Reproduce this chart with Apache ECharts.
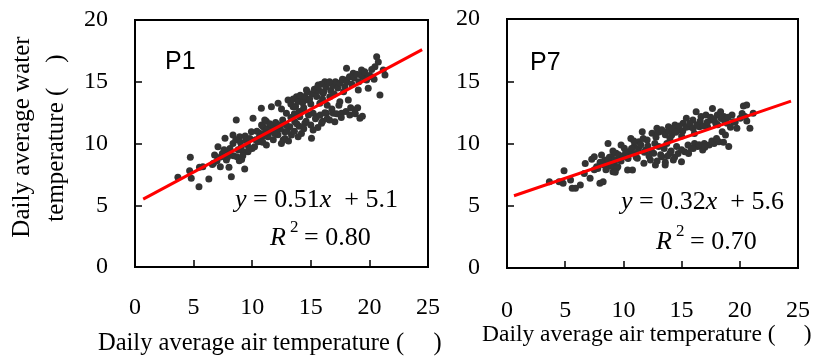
<!DOCTYPE html>
<html>
<head>
<meta charset="utf-8">
<script src="https://cdn.jsdelivr.net/npm/echarts@6/dist/echarts.min.js"></script>
<style>
  html, body { margin: 0; padding: 0; background: #fff; }
  #chart { width: 813px; height: 358px; }
</style>
</head>
<body>
<div id="chart"></div>
<script>
// air temperature vs water temperature
const xTicks = [0, 5, 10, 15, 20, 25]
const yTicks = [0, 5, 10, 15, 20]

const p1Points = [
  [3.66, 7.26], [4.72, 8.88], [4.66, 7.8], [4.8, 7.18], [5.46, 6.5], [5.5, 8.07], [5.79, 8.12], [6.3, 7.13],
  [6.7, 8.4], [6.79, 9.07], [7.08, 9.74], [7.28, 8.12], [7.45, 9.2], [7.68, 10.42], [7.8, 8.66], [8.02, 8.07],
  [8.22, 7.31], [8.36, 10.0], [8.36, 10.69], [8.64, 11.9], [8.7, 8.93], [8.93, 10.55], [9.07, 9.74], [9.36, 7.94],
  [9.2, 9.34], [9.5, 10.28], [9.64, 9.34], [9.93, 10.96], [10.07, 12.04], [10.2, 9.74], [10.5, 10.15], [10.64, 10.82],
  [10.78, 12.85], [10.93, 11.36], [11.07, 11.9], [11.21, 9.88], [11.35, 10.55], [11.49, 11.09], [11.64, 12.98], [11.92, 11.36],
  [12.07, 10.82], [12.21, 13.25], [12.49, 10.01], [12.64, 10.28], [12.78, 10.96], [12.92, 12.44], [13.06, 13.52], [13.21, 11.36],
  [13.35, 10.69], [13.49, 12.98], [13.63, 11.77], [13.78, 13.79], [13.92, 10.55], [14.06, 12.17], [14.2, 13.52], [14.35, 12.71],
  [14.49, 11.63], [14.63, 14.33], [14.77, 13.52], [15.06, 10.42], [15.2, 12.44], [15.35, 14.06], [15.49, 12.17], [15.63, 14.74],
  [15.77, 13.25], [15.92, 11.63], [16.05, 14.06], [16.2, 15.01], [16.34, 12.44], [16.62, 13.79], [16.91, 12.44], [17.05, 11.77],
  [17.19, 14.74], [17.48, 13.39], [17.62, 12.44], [17.91, 15.14], [18.05, 16.09], [18.2, 13.52], [18.33, 12.31], [18.62, 15.68],
  [18.76, 12.71], [19.05, 14.33], [19.19, 12.04], [19.33, 15.95], [19.48, 15.41], [19.76, 15.14], [19.9, 14.47], [20.19, 15.41],
  [20.47, 16.22], [20.62, 17.03], [20.76, 16.6], [20.9, 13.93], [21.18, 15.95], [21.33, 15.55],
  [8.1, 9.6], [8.4, 9.0], [8.6, 10.3], [8.8, 9.5], [9.0, 10.1], [9.2, 9.0], [9.4, 10.6], [9.6, 9.9], [9.8, 10.4], [10.0, 9.6],
  [8.0, 9.3], [7.6, 9.5], [7.3, 8.9], [7.0, 8.6], [6.6, 8.3], [7.9, 8.9], [8.9, 8.6], [9.1, 8.7], [9.7, 9.5], [10.3, 10.3],
  [10.4, 11.0], [10.6, 10.5], [10.8, 11.5], [11.0, 10.6], [11.2, 11.8], [11.4, 10.9], [11.6, 11.4], [11.8, 10.3], [12.0, 11.7],
  [12.2, 10.7], [12.4, 11.2], [12.6, 11.9], [12.8, 10.4], [13.0, 11.0], [11.3, 11.2], [11.5, 11.6], [11.1, 10.9], [12.1, 11.1],
  [12.3, 11.5], [10.9, 10.1], [11.9, 10.8], [12.9, 11.5], [13.1, 10.2], [13.3, 12.1], [12.5, 12.8],
  [13.3, 13.2], [13.5, 13.6], [13.7, 13.0], [13.9, 13.4], [14.1, 13.9], [14.3, 13.3], [14.5, 13.8], [14.7, 14.2], [14.9, 13.6],
  [15.1, 14.0], [15.3, 14.4], [15.5, 13.8], [15.7, 14.3], [15.9, 14.8], [16.1, 14.2], [16.3, 14.6], [16.5, 14.9], [16.7, 14.3],
  [16.9, 14.7], [17.1, 15.0], [17.3, 14.5], [17.5, 14.9], [17.7, 15.2], [17.9, 14.6], [18.1, 15.0], [18.3, 15.4], [18.5, 14.8],
  [18.7, 15.3], [18.9, 15.6], [19.1, 15.0], [19.3, 15.5], [19.6, 15.8], [20.0, 15.5], [20.2, 16.0], [20.4, 15.2], [15.0, 13.2],
  [14.0, 12.6], [16.0, 13.6], [17.0, 14.0], [16.6, 15.0], [15.6, 14.6], [14.4, 12.9], [13.6, 12.4], [16.4, 13.1], [17.8, 14.2],
  [13.6, 11.0], [14.0, 11.4], [14.2, 10.8], [14.6, 11.8], [15.0, 11.5], [15.4, 12.0], [15.6, 11.3], [15.8, 12.3], [16.0, 11.8],
  [16.2, 12.5], [16.4, 12.0], [16.8, 12.8], [17.2, 12.4], [17.4, 13.1], [17.6, 12.1], [18.0, 12.6], [18.4, 12.9], [18.8, 12.4],
  [19.0, 12.9], [19.4, 12.2], [16.6, 11.9], [15.2, 11.1], [14.8, 12.3], [13.8, 11.6], [14.4, 11.2]
]

const p7Points = [
  [3.64, 6.93], [4.48, 6.93], [4.9, 7.82], [4.82, 6.8], [5.46, 7.07], [5.6, 6.4], [5.88, 6.4], [6.3, 6.67],
  [6.64, 7.6], [6.72, 8.4], [7.14, 7.2], [7.28, 8.73], [7.5, 8.94], [7.7, 8.14], [7.98, 6.8], [8.26, 6.93],
  [8.12, 9.08], [8.4, 8.67], [8.54, 8.0], [8.68, 10.01], [8.82, 8.27], [8.96, 8.94], [9.1, 7.74], [9.24, 8.54],
  [9.38, 9.21], [9.52, 8.14], [9.66, 8.81], [9.8, 9.88], [9.94, 8.94], [10.08, 9.61], [10.36, 7.87], [10.5, 9.34],
  [10.64, 10.41], [10.78, 7.87], [10.92, 9.75], [11.2, 8.81], [11.34, 10.15], [11.62, 10.95], [11.76, 8.41], [11.9, 9.48],
  [12.04, 10.28], [12.32, 8.67], [12.46, 10.82], [12.6, 9.21], [12.75, 8.27], [12.88, 11.22], [13.03, 9.75], [13.3, 8.94],
  [13.45, 10.95], [13.59, 8.27], [13.73, 10.01], [13.87, 11.35], [14.0, 9.21], [14.15, 10.68], [14.29, 8.67], [14.43, 11.49],
  [14.57, 9.75], [14.71, 11.09], [14.99, 8.54], [15.13, 11.62], [15.27, 9.34], [15.41, 12.02], [15.55, 9.88], [15.69, 11.35],
  [15.83, 9.61], [15.97, 11.89], [16.11, 10.01], [16.25, 12.56], [16.39, 9.75], [16.53, 11.35], [16.67, 12.16], [16.81, 9.48],
  [16.95, 10.01], [17.09, 12.29], [17.23, 11.35], [17.37, 9.88], [17.51, 11.89], [17.65, 12.82], [17.79, 10.01], [17.93, 11.62],
  [18.07, 12.29], [18.21, 10.15], [18.35, 12.56], [18.49, 10.95], [18.63, 12.16], [18.77, 10.68], [18.91, 11.62], [19.05, 9.75],
  [19.33, 12.29], [19.47, 11.75], [19.75, 11.22], [20.03, 12.02], [20.31, 13.01], [20.45, 12.16], [20.59, 13.09], [20.87, 11.22],
  [21.15, 12.42],
  [8.6, 8.5], [8.8, 8.9], [9.0, 8.2], [9.2, 8.7], [9.4, 8.0], [8.3, 8.3], [8.5, 7.9], [9.6, 9.1], [9.8, 8.6], [10.0, 9.0],
  [8.0, 8.5], [7.8, 8.0], [7.5, 7.9], [9.1, 9.4], [8.7, 8.7], [9.3, 7.7], [10.2, 9.3], [10.4, 8.8], [10.7, 9.6], [11.0, 9.2],
  [11.3, 9.6], [11.5, 9.9], [11.8, 9.3], [12.1, 9.8], [12.4, 9.4], [12.7, 10.0], [12.2, 9.0], [11.1, 8.9], [10.9, 10.2], [11.7, 10.4],
  [13.0, 10.9], [13.3, 11.1], [13.6, 10.7], [13.9, 11.0], [14.2, 11.2], [14.5, 10.9], [14.8, 11.4], [15.1, 11.0], [15.4, 11.3],
  [15.7, 11.6], [16.0, 11.2], [16.3, 11.5], [16.6, 11.8], [16.9, 11.4], [17.2, 11.7], [17.5, 12.1], [17.8, 11.9], [18.1, 11.5],
  [18.4, 12.0], [18.7, 11.8], [19.0, 12.1], [19.2, 11.3], [19.6, 11.7], [20.2, 12.4], [20.6, 11.8], [14.0, 10.4], [15.0, 10.6],
  [16.1, 10.8], [12.8, 10.5], [13.5, 9.6],
  [13.8, 9.0], [14.1, 9.4], [14.4, 8.9], [14.7, 9.2], [15.0, 9.5], [15.6, 9.2], [16.0, 9.6], [16.5, 9.9], [17.0, 9.7],
  [17.6, 10.2], [18.0, 10.4], [18.6, 10.1], [13.2, 9.1], [12.9, 8.6], [13.6, 8.5]
]

// fitted lines, end points as drawn
const p1Fit = [[0.7, 5.5], [24.5, 17.6]]
const p7Fit = [[0.6, 5.8], [24.4, 13.4]]

const panelLabels = ["P1", "P7"]
const eqLabels = ["{i|y} = 0.51{i|x}  + 5.1", "{i|y} = 0.32{i|x}  + 5.6"]
const r2Labels = ["0.80", "0.70"]
const xTitle = "Daily average air temperature (\u2003\u2009)"
const yTitle = ["Daily average water", "temperature (\u2003)"]

const serif = "Liberation Serif"
const ink = "#000"

const chart = echarts.init(document.getElementById("chart"), null, { renderer: "canvas" })

const tickText = { fontFamily: serif, fontSize: 24, color: ink }

function xAxisFor(gridIndex, margin) {
  return {
    type: "value",
    gridIndex,
    min: xTicks[0],
    max: xTicks[xTicks.length - 1],
    interval: 5,
    axisLine: { show: true, lineStyle: { color: ink, width: 2 } },
    axisTick: { show: true, inside: true, length: 7, lineStyle: { color: ink, width: 1.5 } },
    axisLabel: { show: true, margin, formatter: "{t|{value}}", rich: { t: tickText } },
    splitLine: { show: false }
  }
}

function yAxisFor(gridIndex) {
  return {
    type: "value",
    gridIndex,
    min: yTicks[0],
    max: yTicks[yTicks.length - 1],
    interval: 5,
    axisLine: { show: true, lineStyle: { color: ink, width: 2 } },
    axisTick: { show: true, inside: true, length: 7, lineStyle: { color: ink, width: 1.5 } },
    axisLabel: { show: true, margin: 27, formatter: "{t|{value}}", rich: { t: tickText } },
    splitLine: { show: false }
  }
}

function scatterSeries(i, data) {
  return {
    type: "scatter",
    xAxisIndex: i,
    yAxisIndex: i,
    data,
    symbolSize: 7,
    itemStyle: { color: "#333", opacity: 1 },
    z: 2
  }
}

function fitSeries(i, data) {
  return {
    type: "line",
    xAxisIndex: i,
    yAxisIndex: i,
    data,
    symbol: "none",
    lineStyle: { color: "#f00", width: 3 },
    z: 3
  }
}

function text(x, y, str, extra) {
  return {
    type: "text",
    x,
    y,
    style: Object.assign({ text: str, fill: ink, font: `25px ${serif}`, verticalAlign: "middle" }, extra)
  }
}

function equation(x, y, i) {
  return {
    type: "text",
    x,
    y,
    style: {
      text: eqLabels[i],
      fill: ink,
      font: `26px ${serif}`,
      verticalAlign: "middle",
      rich: { i: { fontStyle: "italic", fontFamily: serif, fontSize: 26 } }
    }
  }
}

function r2(x, y, i) {
  return [
    text(x, y, "R", { font: `italic 26px ${serif}` }),
    text(x + 20, y - 10, "2", { font: `17px ${serif}` }),
    text(x + 34, y, "= " + r2Labels[i], { font: `26px ${serif}` })
  ]
}

chart.setOption({
  animation: false,
  textStyle: { fontFamily: serif, fontSize: 24, color: ink },
  grid: [
    { left: 135, top: 20, width: 293, height: 247, show: true, borderColor: ink, borderWidth: 2 },
    { left: 507, top: 19, width: 295, height: 249, show: true, borderColor: ink, borderWidth: 2 }
  ],
  xAxis: [xAxisFor(0, 29), xAxisFor(1, 31)],
  yAxis: [yAxisFor(0), yAxisFor(1)],
  series: [
    scatterSeries(0, p1Points),
    fitSeries(0, p1Fit),
    scatterSeries(1, p7Points),
    fitSeries(1, p7Fit)
  ],
  graphic: [
    text(165, 62, panelLabels[0], { font: "25px 'Liberation Sans', Arial, sans-serif" }),
    text(530, 63, panelLabels[1], { font: "25px 'Liberation Sans', Arial, sans-serif" }),
    equation(235, 200, 0),
    equation(621, 202, 1),
    ...r2(270, 238, 0),
    ...r2(656, 242, 1),
    text(98, 344, xTitle, { font: `24.5px ${serif}` }),
    text(482, 335, xTitle, { font: `23.5px ${serif}` }),
    text(22, 137, yTitle[0], { align: "center", verticalAlign: "middle" }),
    text(56, 138, yTitle[1], { align: "center", verticalAlign: "middle" })
  ].map((g, idx) => idx >= 12 ? Object.assign(g, { rotation: Math.PI / 2 }) : g)
})
</script>
</body>
</html>
